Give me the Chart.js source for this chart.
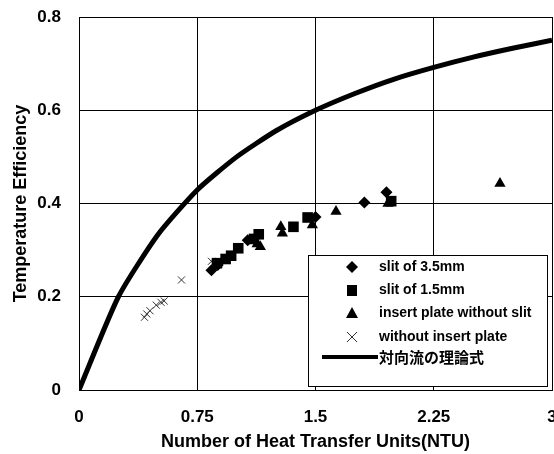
<!DOCTYPE html>
<html>
<head>
<meta charset="utf-8">
<script src="https://cdn.jsdelivr.net/npm/chart.js@4"></script>
<style>
  html, body { margin: 0; padding: 0; background: #fff; }
  #wrap { width: 554px; height: 454px; }
</style>
</head>
<body>
<div id="wrap"><canvas id="myChart" width="554" height="454"></canvas></div>
<script>
// Données (NTU, rendement)
const slit35 = [[0.84, 0.257], [0.88, 0.268], [1.07, 0.321], [1.5, 0.371], [1.81, 0.402], [1.95, 0.424]];
const slit15 = [[0.875, 0.272], [0.93, 0.281], [0.965, 0.288], [1.01, 0.304], [1.11, 0.324], [1.14, 0.334], [1.36, 0.35], [1.45, 0.37], [1.98, 0.405]];
const plateNoSlit = [[1.13, 0.313], [1.15, 0.307], [1.28, 0.35], [1.29, 0.336], [1.48, 0.354], [1.63, 0.383], [1.96, 0.4], [2.67, 0.443]];
const noPlate = [[0.415, 0.156], [0.43, 0.163], [0.45, 0.17], [0.49, 0.182], [0.52, 0.188], [0.54, 0.191], [0.65, 0.236], [0.84, 0.276], [0.86, 0.27]];
const theory = [[0, 0], [0.25, 0.2], [0.5, 0.333], [0.75, 0.429], [1, 0.5], [1.25, 0.556], [1.5, 0.6], [1.75, 0.636], [2, 0.667], [2.25, 0.692], [2.5, 0.714], [2.75, 0.733], [3, 0.75]];

const xTicks = ["0", "0.75", "1.5", "2.25", "3"];
const yTicks = ["0", "0.2", "0.4", "0.6", "0.8"];
const legendLabels = ["slit of 3.5mm", "slit of 1.5mm", "insert plate without slit", "without insert plate", "対向流の理論式"];

const pts = arr => arr.map(p => ({ x: p[0], y: p[1] }));
const FONT = "'Liberation Sans', Arial, sans-serif";

// Légende dessinée à la main, dans la zone du graphique
const boxLegend = {
  id: "boxLegend",
  afterDraw(chart) {
    const ctx = chart.ctx;
    ctx.save();
    ctx.fillStyle = "#fff";
    ctx.fillRect(308, 255, 239, 131);
    ctx.strokeStyle = "#000";
    ctx.lineWidth = 1;
    ctx.strokeRect(308.5, 255.5, 239, 131);
    const rows = [267, 290, 313, 337, 357];
    const sx = 352, tx = 379;
    ctx.fillStyle = "#000";
    // losange
    ctx.beginPath();
    ctx.moveTo(sx, rows[0] - 6); ctx.lineTo(sx + 6, rows[0]); ctx.lineTo(sx, rows[0] + 6); ctx.lineTo(sx - 6, rows[0]);
    ctx.closePath(); ctx.fill();
    // carré
    ctx.fillRect(sx - 5, rows[1] - 5, 10, 11);
    // triangle
    ctx.beginPath();
    ctx.moveTo(sx, rows[2] - 6); ctx.lineTo(sx + 6, rows[2] + 5); ctx.lineTo(sx - 6, rows[2] + 5);
    ctx.closePath(); ctx.fill();
    // croix
    ctx.strokeStyle = "#333";
    ctx.beginPath();
    ctx.moveTo(sx - 5, rows[3] - 5); ctx.lineTo(sx + 5, rows[3] + 5);
    ctx.moveTo(sx + 5, rows[3] - 5); ctx.lineTo(sx - 5, rows[3] + 5);
    ctx.stroke();
    // trait épais
    ctx.strokeStyle = "#000";
    ctx.lineWidth = 4;
    ctx.beginPath(); ctx.moveTo(322, rows[4]); ctx.lineTo(378, rows[4]); ctx.stroke();
    // textes
    ctx.textBaseline = "middle";
    ctx.font = "bold 14px " + FONT;
    for (let i = 0; i < 4; i++) ctx.fillText(legendLabels[i], tx, rows[i]);
    ctx.font = "bold 15px 'Noto Sans CJK JP', sans-serif";
    ctx.fillText(legendLabels[4], tx, rows[4]);
    ctx.restore();
  }
};

const ctx = document.getElementById("myChart").getContext("2d");
new Chart(ctx, {
  type: "scatter",
  data: {
    datasets: [
      { label: legendLabels[0], data: pts(slit35), pointStyle: "rectRot", pointRadius: 6, backgroundColor: "#000", borderColor: "#000", borderWidth: 0 },
      { label: legendLabels[1], data: pts(slit15), pointStyle: "rect", pointRadius: 7.5, backgroundColor: "#000", borderColor: "#000", borderWidth: 0 },
      { label: legendLabels[2], data: pts(plateNoSlit), pointStyle: "triangle", pointRadius: 6.5, backgroundColor: "#000", borderColor: "#000", borderWidth: 0 },
      { label: legendLabels[3], data: pts(noPlate), pointStyle: "crossRot", pointRadius: 5, backgroundColor: "#333", borderColor: "#333", borderWidth: 1 },
      { label: legendLabels[4], type: "line", data: pts(theory), showLine: true, borderColor: "#000", borderWidth: 5, pointRadius: 0, tension: 0.2, fill: false }
    ]
  },
  options: {
    responsive: false,
    animation: false,
    layout: { autoPadding: false, padding: { top: 17, right: 2, left: 0, bottom: 0 } },
    plugins: { legend: { display: false }, tooltip: { enabled: false } },
    scales: {
      x: {
        type: "linear", min: 0, max: 3,
        afterBuildTicks: s => { s.ticks = xTicks.map(v => ({ value: Number(v) })); },
        afterFit: s => { s.height = 64; s.paddingLeft = 0; s.paddingRight = 0; },
        ticks: { callback: (v, i) => xTicks[i], color: "#000", font: { family: FONT, size: 17, weight: "bold" }, padding: 17, maxRotation: 0 },
        grid: { color: "#000", lineWidth: 1, drawTicks: false },
        border: { color: "#000", width: 1 },
        title: { display: true, text: "Number of Heat Transfer Units(NTU)", color: "#000", font: { family: FONT, size: 18, weight: "bold" }, padding: { top: 0, bottom: 1 } }
      },
      y: {
        min: 0, max: 0.8,
        afterBuildTicks: s => { s.ticks = yTicks.map(v => ({ value: Number(v) })); },
        afterFit: s => { s.width = 79; s.paddingTop = 0; s.paddingBottom = 0; },
        ticks: { callback: (v, i) => yTicks[i], color: "#000", font: { family: FONT, size: 17, weight: "bold" }, padding: 18 },
        grid: { color: "#000", lineWidth: 1, drawTicks: false },
        border: { color: "#000", width: 1 },
        title: { display: true, text: "Temperature Efficiency", color: "#000", font: { family: FONT, size: 18, weight: "bold" }, padding: { top: 10, bottom: 0 } }
      }
    }
  },
  plugins: [boxLegend]
});
</script>
</body>
</html>
